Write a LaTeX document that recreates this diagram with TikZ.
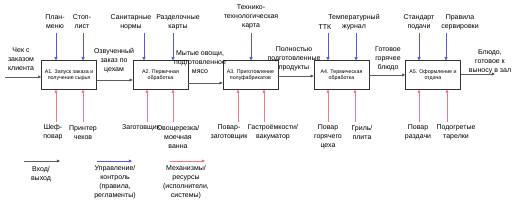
\documentclass[tikz,border=0pt]{standalone}
\usepackage{fontspec}
\setmainfont{Liberation Sans}
\usetikzlibrary{arrows.meta, positioning}

\definecolor{ctrlblue}{RGB}{90,90,215}
\definecolor{ctrltip}{RGB}{40,40,190}
\definecolor{mechred}{RGB}{232,125,135}
\definecolor{mechtip}{RGB}{215,40,60}
\definecolor{iogray}{RGB}{95,95,95}

\tikzset{
    proc/.style={draw=black!80, line width=0.6pt, minimum width=55pt, minimum height=28.5pt,
        align=center, inner sep=1pt, font=\fontsize{5.3}{6.5}\selectfont},
    lbl/.style={align=center, inner sep=0.5pt, font=\fontsize{7}{9}\selectfont},
    io/.style={draw=iogray, line width=0.6pt, -{Triangle[length=3.2pt, width=3pt, fill=black]}},
    ctrl/.style={draw=ctrlblue, line width=0.6pt, -{Triangle[length=3.2pt, width=3pt, fill=ctrltip]}},
    mech/.style={draw=mechred, line width=0.6pt, -{Triangle[length=3.2pt, width=3pt, fill=mechtip]}}
}

\begin{document}
\begin{tikzpicture}[x=1pt, y=-1pt]

    % === Frame ===
    \useasboundingbox[fill=white] (0,0) rectangle (520,208);

    % === Process boxes ===
    \node[proc] (a1) at (69,75)    {А1. Запуск заказа и\\получение сырья};
    \node[proc] (a2) at (160.5,75) {А2. Первичная\\обработка};
    \node[proc] (a3) at (250.5,75) {А3. Приготовление\\полуфабрикатов};
    \node[proc] (a4) at (341.5,75) {А4. Термическая\\обработка};
    \node[proc] (a5) at (433,75)   {А5. Оформление и\\отдача};

    % === Inputs / outputs ===
    \node[lbl] (chek) at (21,59) {Чек с\\заказом\\клиента};
    \coordinate (in0) at (5,77);
    \draw[io] (in0) -- (in0 -| a1.west);

    \node[lbl] (ozv) at (114,61) {Озвученный\\заказ по\\цехам};
    \draw[io] ([yshift=-5pt]a1.east) -- ([yshift=-5pt]a1.east -| a2.west);

    \node[lbl] (myt) at (200,62) {Мытые овощи,\\подготовленное\\мясо};
    \draw[io] ([yshift=-8pt]a2.east) -- ([yshift=-8pt]a2.east -| a3.west);

    \node[lbl] (poln) at (294,59) {Полностью\\подготовленные\\продукты};
    \draw[io] ([yshift=-1pt]a3.east) -- ([yshift=-1pt]a3.east -| a4.west);

    \node[lbl] (gotov) at (388,59) {Готовое\\горячее\\блюдо};
    \draw[io] (a4.east) -- (a4.east -| a5.west);

    \node[lbl] (bludo) at (490,62) {Блюдо,\\готовое к\\выносу в зал};
    \coordinate (out5) at (495,74);
    \draw[io] (out5 -| a5.east) -- (out5);

    % === Controls (top) ===
    \node[lbl] (plan) at (55,22)  {План-\\меню};
    \node[lbl] (stop) at (82,22)  {Стоп-\\лист};
    \node[lbl] (san)  at (131,22) {Санитарные\\нормы};
    \node[lbl] (razd) at (178,22) {Разделочные\\карты};
    \node[lbl] (tech) at (251,17) {Технико-\\технологическая\\карта};
    \node[lbl] (ttk)  at (325,27) {ТТК};
    \node[lbl] (temp) at (354,22) {Температурный\\журнал};
    \node[lbl] (stand) at (419,22) {Стандарт\\подачи};
    \node[lbl] (prav) at (460,22) {Правила\\сервировки};

    \draw[ctrl] (56,33)  coordinate (c11) -- (c11 |- a1.north);
    \draw[ctrl] (83,33)  coordinate (c12) -- (c12 |- a1.north);
    \draw[ctrl] (144,33) coordinate (c21) -- (c21 |- a2.north);
    \draw[ctrl] (173,33) coordinate (c22) -- (c22 |- a2.north);
    \draw[ctrl] (251,33) coordinate (c31) -- (c31 |- a3.north);
    \draw[ctrl] (328,33) coordinate (c41) -- (c41 |- a4.north);
    \draw[ctrl] (356,33) coordinate (c42) -- (c42 |- a4.north);
    \draw[ctrl] (419,33) coordinate (c51) -- (c51 |- a5.north);
    \draw[ctrl] (446,33) coordinate (c52) -- (c52 |- a5.north);

    % === Mechanisms (bottom) ===
    \node[lbl] (shef)  at (53,132.5)  {Шеф-\\повар};
    \node[lbl] (print) at (83,132.5)  {Принтер\\чеков};
    \node[lbl] (zag)   at (141,128)   {Заготовщик};
    \node[lbl] (ovosh) at (178,137)   {Овощерезка/\\моечная\\ванна};
    \node[lbl] (povz)  at (229,132.5) {Повар-\\заготовщик};
    \node[lbl] (gastr) at (273,132.5) {Гастроёмкости/\\вакуматор};
    \node[lbl] (povg)  at (328,137)   {Повар\\горячего\\цеха};
    \node[lbl] (gril)  at (362,132.5) {Гриль/\\плита};
    \node[lbl] (povr)  at (418,132.5) {Повар\\раздачи};
    \node[lbl] (podog) at (456,132.5) {Подогретые\\тарелки};

    \draw[mech] (56,122)  coordinate (m11) -- (m11 |- a1.south);
    \draw[mech] (83,122)  coordinate (m12) -- (m12 |- a1.south);
    \draw[mech] (147,122) coordinate (m21) -- (m21 |- a2.south);
    \draw[mech] (173,122) coordinate (m22) -- (m22 |- a2.south);
    \draw[mech] (238,122) coordinate (m31) -- (m31 |- a3.south);
    \draw[mech] (264,122) coordinate (m32) -- (m32 |- a3.south);
    \draw[mech] (328,122) coordinate (m41) -- (m41 |- a4.south);
    \draw[mech] (355,122) coordinate (m42) -- (m42 |- a4.south);
    \draw[mech] (419,122) coordinate (m51) -- (m51 |- a5.south);
    \draw[mech] (447,122) coordinate (m52) -- (m52 |- a5.south);

    % === Legend ===
    \coordinate (lgio) at (24,161);
    \draw[io] (lgio) -- ++(36,0) coordinate (lgioe);
    \node[lbl] (lgiot) at (41,174) {Вход/\\выход};

    \coordinate (lgct) at (97,161);
    \draw[ctrl] (lgct) -- ++(35,0) coordinate (lgcte);
    \node[lbl] (lgctt) at (115,182.5) {Управление/\\контроль\\(правила,\\регламенты)};

    \coordinate (lgme) at (170,161);
    \draw[mech] (lgme) -- ++(35,0) coordinate (lgmee);
    \node[lbl] (lgmet) at (186,182.5) {Механизмы/\\ресурсы\\(исполнители,\\системы)};

\end{tikzpicture}
\end{document}
